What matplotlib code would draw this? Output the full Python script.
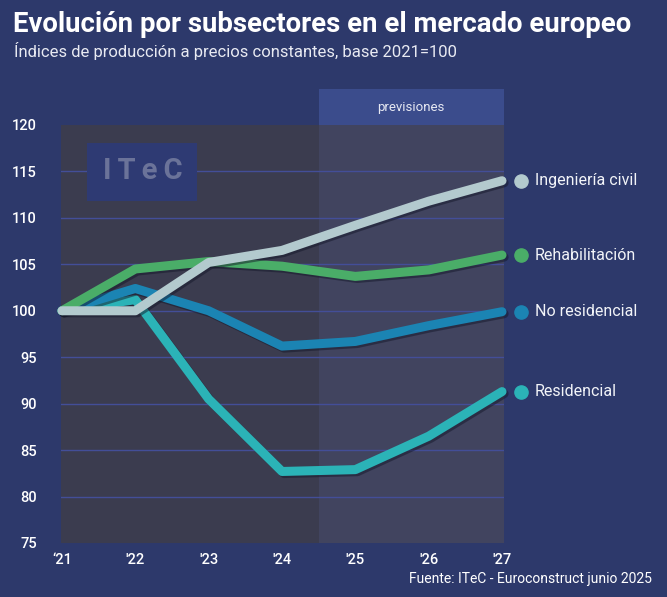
import matplotlib
matplotlib.use("Agg")
import matplotlib.pyplot as plt
import matplotlib.patheffects as pe
from matplotlib.patches import Rectangle

plt.rcParams['font.family'] = ['Roboto', 'DejaVu Sans']

years = ["‘21", "'22", "'23", "'24", "'25", "'26", "'27"]
series_names = ["Residencial", "No residencial", "Rehabilitación", "Ingeniería civil"]
residencial = [100, 101.2, 90.5, 82.7, 82.9, 86.5, 91.3]
no_residencial = [100, 102.4, 100.0, 96.2, 96.7, 98.4, 99.9]
rehabilitacion = [100, 104.5, 105.3, 104.8, 103.7, 104.4, 106.0]
ingenieria = [100, 100, 105.2, 106.5, 109.2, 111.8, 114.0]
colors = ["#2bb3b7", "#1b84b3", "#4aad68", "#b3cace"]
yticks = [75, 80, 85, 90, 95, 100, 105, 110, 115, 120]

BG = "#2d396b"
fig = plt.figure(figsize=(6.67, 5.97), dpi=100, facecolor=BG)
ax = fig.add_axes([60.5/667, 54/597, 443/667, 418/597])
ax.set_facecolor("#3b3c4f")
x = list(range(len(years)))
ax.set_xlim(-0.02, 6.02)
ax.set_ylim(75, 120)

# forecast shading
ax.axvspan(3.5, 6.02, color="#41445f", zorder=0.5, lw=0)
# previsiones box above
ax.add_patch(Rectangle((3.5, 120), 2.52, 3.9, transform=ax.transData, clip_on=False,
                       facecolor="#3b4c8c", edgecolor="none", zorder=1))
ax.text(4.76, 121.9, "previsiones", ha="center", va="center", color="#e6e8f2",
        fontsize=9.5, zorder=2)

for y in [80, 85, 90, 95, 100, 105, 110, 115]:
    ax.axhline(y, color="#434e98", lw=1.0, zorder=1)

# watermark
ax.add_patch(Rectangle((0.34, 111.8), 1.5, 6.3, facecolor="#2e3a73", edgecolor="none", zorder=1))
ax.text(1.1, 115.0, "I\u2009T\u2009e\u2009C", ha="center", va="center", color="#6b7399",
        fontsize=21, fontweight="bold", zorder=2)

data = [residencial, no_residencial, rehabilitacion, ingenieria]
for i, (vals, c, name) in enumerate(zip(data, colors, series_names)):
    ax.plot(x, vals, color=c, lw=6.5, solid_capstyle="round", solid_joinstyle="round",
            zorder=3 + i, clip_on=False,
            path_effects=[pe.SimpleLineShadow(offset=(1.5, -1.5), shadow_color="#15182a", alpha=0.5),
                          pe.Normal()])
    ax.plot([6.26], [vals[-1]], "o", color=c, ms=9.5, clip_on=False, zorder=8)
    ax.text(6.45, vals[-1], name, ha="left", va="center", color="#f2f4f8", fontsize=11.5,
            clip_on=False)

ax.set_xticks(x)
ax.set_xticklabels(years)
ax.set_yticks(yticks)
ax.tick_params(axis="both", length=0, colors="#ffffff", labelsize=10.5)
ax.tick_params(axis="y", pad=17)
ax.tick_params(axis="x", pad=7)
for lab in ax.get_yticklabels() + ax.get_xticklabels():
    lab.set_fontweight("medium")
for s in ax.spines.values():
    s.set_visible(False)

fig.text(13/667, 1 - 24/597, "Evolución por subsectores en el mercado europeo", ha="left", va="center",
         color="#ffffff", fontsize=19.8, fontweight="bold")
fig.text(14/667, 1 - 51/597, "Índices de producción a precios constantes, base 2021=100", ha="left",
         va="center", color="#e8eaf2", fontsize=12)
fig.text(652/667, 1 - 579/597, "Fuente: ITeC - Euroconstruct junio 2025", ha="right", va="center",
         color="#ffffff", fontsize=10)

fig.savefig("out.png", dpi=100, facecolor=BG)
